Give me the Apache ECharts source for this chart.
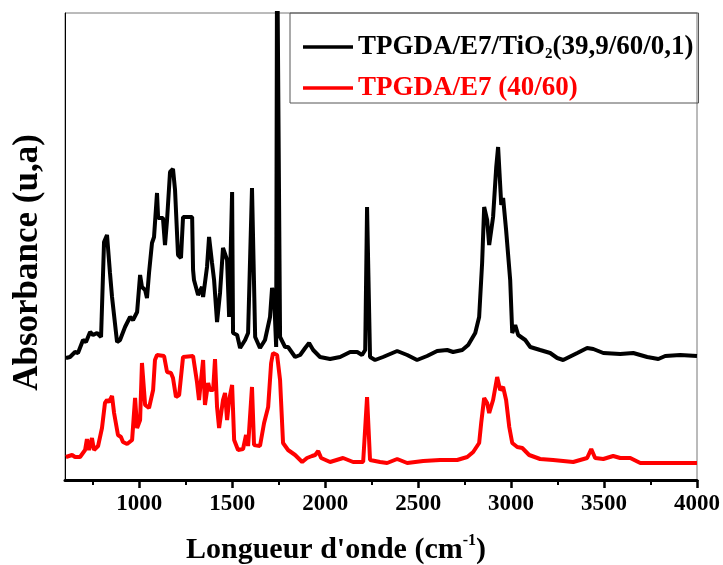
<!DOCTYPE html>
<html>
<head>
<meta charset="utf-8">
<script src="https://cdn.jsdelivr.net/npm/echarts@6/dist/echarts.min.js"></script>
<style>html,body{margin:0;padding:0;background:#fff}#c{width:723px;height:565px}</style>
</head>
<body>
<div id="c"></div>
<script>
// wavenumber (cm-1) / absorbance (arbitrary units)
const nameTiO2 = 'TPGDA/E7/TiO2(39,9/60/0,1)';
const nameRef = 'TPGDA/E7 (40/60)';
const xMajorTicks = [1000,1500,2000,2500,3000,3500,4000];
const xMinorTicks = [750,1250,1750,2250,2750,3250,3750];

const tio2Data = [[605,1.22],[627,1.23],[654,1.28],[670,1.27],[697,1.40],[713,1.38],[735,1.48],[751,1.45],[772,1.47],[794,1.43],[810,2.38],[826,2.45],[842,2.07],[853,1.83],[858,1.82],[880,1.38],[896,1.40],[923,1.53],[950,1.63],[966,1.60],[988,1.68],[1004,2.05],[1014,1.93],[1031,1.90],[1041,1.82],[1052,2.07],[1068,2.37],[1079,2.43],[1095,2.87],[1101,2.62],[1127,2.62],[1138,2.35],[1149,2.60],[1165,3.08],[1181,3.11],[1192,2.90],[1208,2.25],[1224,2.22],[1235,2.63],[1284,2.63],[1289,2.10],[1294,2.00],[1316,1.85],[1337,1.93],[1343,1.83],[1364,2.13],[1375,2.43],[1391,2.17],[1402,2.00],[1418,1.58],[1434,1.87],[1450,2.32],[1472,2.20],[1483,1.63],[1499,2.88],[1504,1.47],[1526,1.45],[1542,1.32],[1569,1.40],[1585,1.47],[1606,2.92],[1623,1.43],[1649,1.32],[1676,1.40],[1703,1.63],[1714,1.92],[1725,1.83],[1736,1.33],[1741,5.50],[1757,1.43],[1784,1.33],[1800,1.33],[1838,1.23],[1865,1.25],[1892,1.32],[1913,1.37],[1935,1.30],[1972,1.23],[2026,1.21],[2080,1.23],[2134,1.28],[2172,1.28],[2198,1.25],[2215,1.30],[2225,2.73],[2241,1.23],[2268,1.20],[2311,1.23],[2387,1.29],[2441,1.25],[2494,1.20],[2548,1.24],[2602,1.29],[2656,1.30],[2688,1.28],[2737,1.30],[2769,1.35],[2807,1.47],[2828,1.63],[2844,2.17],[2855,2.73],[2871,2.60],[2882,2.35],[2903,2.63],[2920,3.13],[2930,3.33],[2947,2.75],[2957,2.82],[2973,2.50],[2995,2.00],[3006,1.47],[3022,1.55],[3038,1.45],[3076,1.40],[3103,1.33],[3156,1.30],[3210,1.27],[3248,1.22],[3280,1.20],[3356,1.27],[3409,1.32],[3442,1.31],[3496,1.27],[3587,1.26],[3657,1.27],[3732,1.23],[3792,1.21],[3829,1.24],[3910,1.25],[4000,1.24]];

const refData = [[605,0.23],[638,0.25],[654,0.23],[681,0.23],[708,0.30],[718,0.41],[729,0.30],[745,0.42],[756,0.30],[778,0.34],[799,0.52],[815,0.77],[826,0.80],[837,0.78],[853,0.84],[864,0.67],[874,0.65],[885,0.45],[901,0.43],[912,0.38],[934,0.36],[961,0.40],[977,0.82],[988,0.52],[1004,0.60],[1014,1.17],[1031,0.75],[1052,0.72],[1074,0.90],[1084,1.20],[1095,1.25],[1133,1.24],[1149,1.08],[1170,1.07],[1181,1.02],[1197,0.83],[1214,0.85],[1235,1.23],[1289,1.24],[1310,0.98],[1321,0.80],[1343,1.20],[1353,0.75],[1370,0.97],[1380,0.90],[1397,0.90],[1407,1.21],[1418,0.73],[1429,0.52],[1450,0.80],[1461,0.87],[1472,0.60],[1483,0.80],[1499,0.95],[1510,0.40],[1531,0.30],[1558,0.31],[1574,0.45],[1585,0.34],[1606,0.93],[1617,0.35],[1649,0.34],[1671,0.57],[1693,0.73],[1709,1.17],[1719,1.27],[1741,1.25],[1757,1.00],[1773,0.37],[1800,0.30],[1838,0.25],[1876,0.18],[1902,0.22],[1929,0.24],[1946,0.25],[1962,0.29],[1978,0.22],[2026,0.18],[2096,0.22],[2150,0.18],[2204,0.18],[2225,0.83],[2241,0.20],[2295,0.18],[2333,0.17],[2387,0.21],[2441,0.17],[2527,0.19],[2618,0.20],[2710,0.20],[2764,0.23],[2796,0.28],[2828,0.37],[2839,0.57],[2855,0.82],[2871,0.77],[2882,0.67],[2903,0.80],[2925,1.03],[2941,0.90],[2957,0.93],[2973,0.80],[2990,0.53],[3006,0.37],[3033,0.33],[3060,0.32],[3097,0.25],[3156,0.21],[3226,0.20],[3334,0.18],[3409,0.22],[3431,0.31],[3452,0.22],[3496,0.21],[3549,0.24],[3587,0.22],[3641,0.22],[3695,0.17],[3765,0.17],[3872,0.17],[4000,0.17]];

const FONT = '"Liberation Serif","Times New Roman",serif';
const chart = echarts.init(document.getElementById('c'), null, {renderer: 'canvas'});
chart.setOption({
  animation: false,
  backgroundColor: '#fff',
  grid: {left: 65, right: 26, top: 13, bottom: 85, show: true, borderColor: '#777', borderWidth: 1,
         containLabel: false, outerBoundsMode: 'none'},
  legend: {
    left: 290, top: 13, orient: 'vertical',
    padding: [19, 5, 0, 13], itemGap: 11, itemWidth: 50, itemHeight: 3.5, itemTextGap: 7,
    borderColor: '#555', borderWidth: 1, icon: 'rect',
    data: [nameTiO2, nameRef],
    formatter: function (n) {
      if (n === nameTiO2) return '{b|TPGDA/E7/TiO}{s|2}{b|(39,9/60/0,1)}';
      return '{r|' + n + '}';
    },
    textStyle: {
      fontFamily: FONT, fontWeight: 'bold', fontSize: 27, lineHeight: 30,
      rich: {
        b: {color: '#000', fontFamily: FONT, fontWeight: 'bold', fontSize: 27, lineHeight: 30},
        s: {color: '#000', fontFamily: FONT, fontWeight: 'bold', fontSize: 15, lineHeight: 14, verticalAlign: 'bottom'},
        r: {color: '#ff0000', fontFamily: FONT, fontWeight: 'bold', fontSize: 27, lineHeight: 30}
      }
    }
  },
  xAxis: [{
    type: 'value', min: 600, max: 4000, position: 'bottom', offset: 0,
    splitLine: {show: false},
    axisLine: {show: true, lineStyle: {color: '#000', width: 3}},
    axisTick: {show: true, length: 8, customValues: xMajorTicks, lineStyle: {color: '#000', width: 2.5}},
    axisLabel: {customValues: xMajorTicks, margin: 13, color: '#000', fontFamily: FONT, fontWeight: 'bold', fontSize: 23,
                formatter: function (v) { return String(v); }},
    name: "{t|Longueur d'onde (cm}{u|-1}{t|)}",
    nameLocation: 'middle', nameGap: 53,
    nameTextStyle: {
      padding: [0, 90, 0, 0],
      rich: {
        t: {color: '#000', fontFamily: FONT, fontWeight: 'bold', fontSize: 30, lineHeight: 34},
        u: {color: '#000', fontFamily: FONT, fontWeight: 'bold', fontSize: 16, lineHeight: 34, verticalAlign: 'top'}
      }
    }
  }, {
    type: 'value', min: 600, max: 4000, position: 'bottom', offset: 0,
    splitLine: {show: false}, axisLine: {show: false},
    axisTick: {show: true, length: 5, customValues: xMinorTicks, lineStyle: {color: '#000', width: 2}},
    axisLabel: {show: false}
  }],
  yAxis: {
    type: 'value', min: 0, max: 4.67,
    splitLine: {show: false},
    axisLine: {show: true, lineStyle: {color: '#000', width: 1}},
    axisTick: {show: false}, axisLabel: {show: false},
    name: 'Absorbance (u,a)', nameLocation: 'middle', nameGap: 20,
    nameTextStyle: {color: '#000', fontFamily: FONT, fontWeight: 'bold', fontSize: 35, padding: [0, 32, 0, 0]}
  },
  series: [{
    name: nameTiO2, type: 'line', data: tio2Data, symbol: 'none', clip: true,
    lineStyle: {color: '#000', width: 4}, itemStyle: {color: '#000'}
  }, {
    name: nameRef, type: 'line', data: refData, symbol: 'none', clip: true,
    lineStyle: {color: '#ff0000', width: 4}, itemStyle: {color: '#ff0000'}
  }]
});
</script>
</body>
</html>
